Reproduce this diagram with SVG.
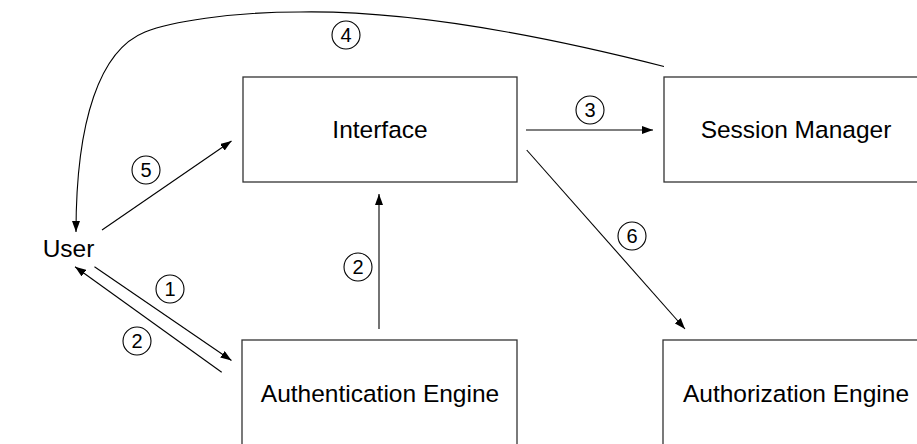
<svg xmlns="http://www.w3.org/2000/svg" width="917" height="444" viewBox="0 0 917 444">
  <defs>
    <marker id="arrow" viewBox="0 0 11 8" refX="11" refY="4" markerWidth="11" markerHeight="8" markerUnits="userSpaceOnUse" orient="auto">
      <path d="M0,0 L11,4 L0,8 z" fill="#000"/>
    </marker>
    <style>
      .box { fill: #fff; stroke: #333; stroke-width: 1.3; }
      .label { font-family: "Liberation Sans", Arial, Helvetica, sans-serif; font-size: 24.5px; fill: #000; text-anchor: middle; }
      .edge { fill: none; stroke: #000; stroke-width: 1.1; }
      .num circle { fill: #fff; stroke: #000; stroke-width: 1.1; }
      .num text { font-family: "Liberation Sans", Arial, Helvetica, sans-serif; font-size: 20px; fill: #000; text-anchor: middle; }
    </style>
  </defs>

  <rect width="917" height="444" fill="#fff"/>

  <!-- components -->
  <g id="interface">
    <rect class="box" x="243" y="77" width="274" height="105"/>
    <text class="label" x="380" y="138">Interface</text>
  </g>
  <g id="session-manager">
    <rect class="box" x="664" y="77" width="270" height="105"/>
    <text class="label" x="796" y="138">Session Manager</text>
  </g>
  <g id="authentication-engine">
    <rect class="box" x="242" y="340" width="275" height="120"/>
    <text class="label" x="380" y="402">Authentication Engine</text>
  </g>
  <g id="authorization-engine">
    <rect class="box" x="663" y="340" width="270" height="120"/>
    <text class="label" x="796" y="402">Authorization Engine</text>
  </g>
  <g id="user">
    <text class="label" x="68.5" y="257">User</text>
  </g>

  <!-- message flows -->
  <g id="connectors">
    <path class="edge" d="M94.5,266.7 L231.5,360.5" marker-end="url(#arrow)"/>
    <path class="edge" d="M221.7,372.3 L75,266.7" marker-end="url(#arrow)"/>
    <path class="edge" d="M379,329 L379,194" marker-end="url(#arrow)"/>
    <path class="edge" d="M526,130 L653,130" marker-end="url(#arrow)"/>
    <path class="edge" d="M664,66.5 C560,40 420,10 300,12 C230,12 170,22 145,32 C100,50 76,120 76,232" marker-end="url(#arrow)"/>
    <path class="edge" d="M102,230 L231.5,141" marker-end="url(#arrow)"/>
    <path class="edge" d="M526.7,150 L685,329" marker-end="url(#arrow)"/>
  </g>

  <!-- step numbers -->
  <g id="step-labels" class="num">
    <g><circle cx="170" cy="289" r="14"/><text x="170" y="296">1</text></g>
    <g><circle cx="137" cy="341" r="14"/><text x="137" y="348">2</text></g>
    <g><circle cx="358" cy="267" r="14"/><text x="358" y="274">2</text></g>
    <g><circle cx="590" cy="110" r="14"/><text x="590" y="117">3</text></g>
    <g><circle cx="346" cy="35" r="14"/><text x="346" y="42">4</text></g>
    <g><circle cx="146" cy="170" r="14"/><text x="146" y="177">5</text></g>
    <g><circle cx="632" cy="236" r="14"/><text x="632" y="243">6</text></g>
  </g>
</svg>
